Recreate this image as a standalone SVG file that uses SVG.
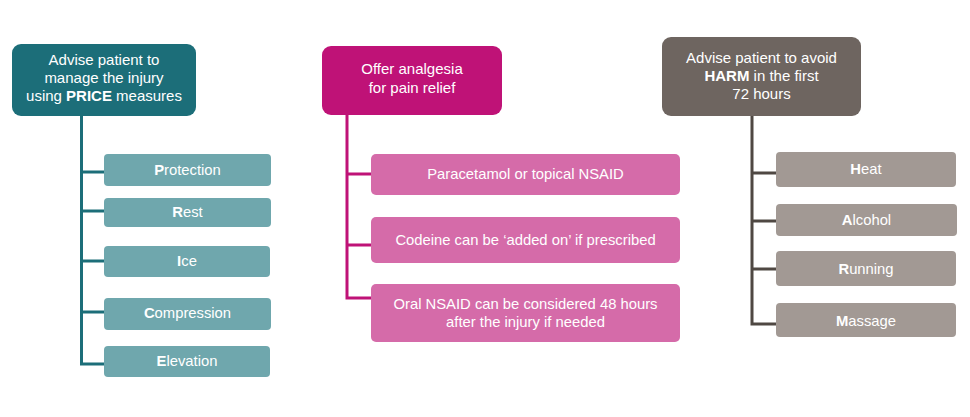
<svg xmlns="http://www.w3.org/2000/svg" width="970" height="417" viewBox="0 0 970 417">
<style>
text{font-family:"Liberation Sans",Arial,sans-serif;fill:#fff;text-anchor:middle}
.h{font-size:15px}
.c{font-size:14.8px}
.t1{fill:#1c6e79}.t2{fill:#6fa7ad}
.p1{fill:#bf1277}.p2{fill:#d56ba9}
.g1{fill:#6e6560}.g2{fill:#a29994}
.lt{stroke:#1c6e79}.lp{stroke:#bf1277}.lg{stroke:#4f4843}
.conn path{fill:none;stroke-width:3}
.b{font-weight:bold}
</style>
<rect width="970" height="417" fill="#fff"/>
<g class="conn">
<path class="lt" d="M81.5 116V365.5M80 172H104M80 211H104M80 261H104M80 312H104M80 364H104"/>
<path class="lp" d="M347 115V298M345.5 174H371M345.5 245H371M345.5 298H371"/>
<path class="lg" d="M752 116V325.5M750.5 173H776M750.5 221H776M750.5 269H776M750.5 324H776"/>
</g>
<g id="price">
<rect class="t1" x="12" y="44" width="184" height="72" rx="9"/>
<text class="h" x="104" y="65">Advise patient to</text>
<text class="h" x="104" y="83">manage the injury</text>
<text class="h" x="104" y="101">using <tspan class="b">PRICE</tspan> measures</text>
</g>
<g id="protection"><rect class="t2" x="104" y="154" width="167" height="32" rx="4"/><text class="c" x="187.5" y="175"><tspan class="b">P</tspan>rotection</text></g>
<g id="rest"><rect class="t2" x="104" y="198" width="167" height="29" rx="4"/><text class="c" x="187.5" y="217"><tspan class="b">R</tspan>est</text></g>
<g id="ice"><rect class="t2" x="104" y="246" width="166" height="31" rx="4"/><text class="c" x="187" y="266"><tspan class="b">I</tspan>ce</text></g>
<g id="compression"><rect class="t2" x="104" y="298" width="167" height="32" rx="4"/><text class="c" x="187.5" y="318"><tspan class="b">C</tspan>ompression</text></g>
<g id="elevation"><rect class="t2" x="104" y="346" width="166" height="31" rx="4"/><text class="c" x="187" y="366"><tspan class="b">E</tspan>levation</text></g>

<g id="analgesia">
<rect class="p1" x="322" y="46" width="180" height="69" rx="9"/>
<text class="h" x="412" y="74">Offer analgesia</text>
<text class="h" x="412" y="93">for pain relief</text>
</g>
<g id="paracetamol"><rect class="p2" x="371" y="154" width="309" height="41" rx="5"/><text class="c" x="525.5" y="179">Paracetamol or topical NSAID</text></g>
<g id="codeine"><rect class="p2" x="371" y="217" width="309" height="46" rx="5"/><text class="c" x="525.5" y="245">Codeine can be ‘added on’ if prescribed</text></g>
<g id="oral"><rect class="p2" x="371" y="284" width="309" height="58" rx="5"/><text class="c" x="525.5" y="309">Oral NSAID can be considered 48 hours</text><text class="c" x="525.5" y="327">after the injury if needed</text></g>

<g id="harm">
<rect class="g1" x="662" y="37" width="199" height="79" rx="9"/>
<text class="h" x="761.5" y="63">Advise patient to avoid</text>
<text class="h" x="761.5" y="81"><tspan class="b">HARM</tspan> in the first</text>
<text class="h" x="761.5" y="99">72 hours</text>
</g>
<g id="heat"><rect class="g2" x="776" y="152" width="180" height="35" rx="4"/><text class="c" x="866" y="174"><tspan class="b">H</tspan>eat</text></g>
<g id="alcohol"><rect class="g2" x="776" y="204" width="181" height="32" rx="4"/><text class="c" x="866.5" y="225"><tspan class="b">A</tspan>lcohol</text></g>
<g id="running"><rect class="g2" x="776" y="251" width="180" height="35" rx="4"/><text class="c" x="866" y="274"><tspan class="b">R</tspan>unning</text></g>
<g id="massage"><rect class="g2" x="776" y="303" width="180" height="34" rx="4"/><text class="c" x="866" y="326"><tspan class="b">M</tspan>assage</text></g>
</svg>
